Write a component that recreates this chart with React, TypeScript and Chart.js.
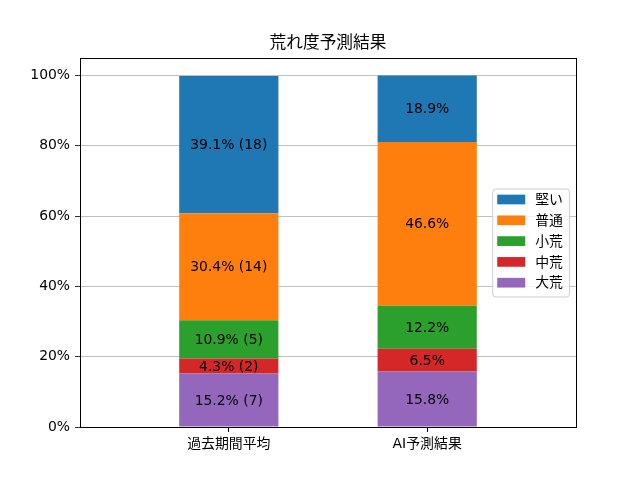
import React, { useEffect, useRef } from "react";
import { Chart, registerables, Plugin } from "chart.js";

Chart.register(...registerables);

const categories = ["過去期間平均", "AI予測結果"];
const seriesNames = ["大荒", "中荒", "小荒", "普通", "堅い"];
const seriesColors = ["#9467bd", "#d62728", "#2ca02c", "#ff7f0e", "#1f77b4"];
const pastShares = [15.2, 4.3, 10.9, 30.4, 39.1];
const pastCounts = [7, 2, 5, 14, 18];
const aiShares = [15.8, 6.5, 12.2, 46.6, 18.9];
const yTicks = [0, 20, 40, 60, 80, 100];
const titleText = "荒れ度予測結果";

const FONT = '"DejaVu Sans", "Noto Sans CJK JP", sans-serif';

// frame, title, bar labels and the boxed legend, drawn matplotlib-style
const decorations: Plugin<"bar"> = {
  id: "decorations",
  afterDatasetsDraw(chart) {
    const ctx = chart.ctx;
    ctx.save();
    ctx.font = `13.9px ${FONT}`;
    ctx.fillStyle = "#000";
    ctx.textAlign = "center";
    ctx.textBaseline = "middle";
    chart.data.datasets.forEach((_, i) => {
      const meta = chart.getDatasetMeta(i);
      meta.data.forEach((bar: any, j: number) => {
        const { x, y, base } = bar.getProps(["x", "y", "base"], true);
        const share = j === 0 ? pastShares[i] : aiShares[i];
        const text = j === 0 ? `${share.toFixed(1)}% (${pastCounts[i]})` : `${share.toFixed(1)}%`;
        ctx.fillText(text, x, (y + base) / 2 + 1);
      });
    });
    ctx.restore();
  },
  afterDraw(chart) {
    const ctx = chart.ctx;
    const { left, right, top, bottom } = chart.chartArea;
    ctx.save();
    ctx.strokeStyle = "#000";
    ctx.lineWidth = 1;
    ctx.strokeRect(Math.round(left) + 0.5, Math.round(top) + 0.5, Math.round(right - left), Math.round(bottom - top));

    ctx.font = `16.7px ${FONT}`;
    ctx.fillStyle = "#000";
    ctx.textAlign = "center";
    ctx.textBaseline = "middle";
    ctx.fillText(titleText, (left + right) / 2, 44);

    // legend, top entry is the top of the stack
    ctx.font = `13.9px ${FONT}`;
    const order = chart.data.datasets.map((_, i) => i).reverse();
    const textW = Math.max(...order.map((i) => ctx.measureText(String(chart.data.datasets[i].label)).width));
    const pad = 5;
    const handleW = 28;
    const handleH = 9.7;
    const gap = 10;
    const rowH = 20.8;
    const boxW = pad + handleW + gap + textW + pad + 1;
    const boxH = 108;
    const bx = right - 7 - boxW;
    const by = (top + bottom) / 2 - boxH / 2;
    ctx.beginPath();
    ctx.roundRect(bx + 0.5, by + 0.5, boxW, boxH, 3);
    ctx.fillStyle = "rgba(255,255,255,0.8)";
    ctx.fill();
    ctx.strokeStyle = "#cccccc";
    ctx.stroke();
    order.forEach((i, k) => {
      const cy = by + 11 + k * rowH;
      ctx.fillStyle = String(chart.data.datasets[i].backgroundColor);
      ctx.fillRect(bx + pad, cy - handleH / 2, handleW, handleH);
      ctx.fillStyle = "#000";
      ctx.textAlign = "left";
      ctx.fillText(String(chart.data.datasets[i].label), bx + pad + handleW + gap, cy + 1);
    });
    ctx.restore();
  },
};

function StackedShareChart() {
  const canvasRef = useRef<HTMLCanvasElement>(null);

  useEffect(() => {
    if (!canvasRef.current) return;
    const chart = new Chart(canvasRef.current, {
      type: "bar",
      data: {
        datasets: seriesNames.map((name, i) => ({
          label: name,
          data: [
            { x: 0, y: pastShares[i] },
            { x: 1, y: aiShares[i] },
          ],
          backgroundColor: seriesColors[i],
          borderWidth: 0,
          categoryPercentage: 1,
          barPercentage: 0.5,
        })),
      },
      options: {
        responsive: false,
        animation: false,
        devicePixelRatio: 1,
        layout: { padding: { top: 58, right: 64, left: 0, bottom: 0 } },
        plugins: {
          legend: { display: false },
          title: { display: false },
          tooltip: { enabled: false },
        },
        scales: {
          x: {
            type: "linear",
            stacked: true,
            offset: false,
            bounds: "data",
            min: -0.75,
            max: 1.75,
            afterBuildTicks: (scale: any) => {
              scale.ticks = categories.map((_, i) => ({ value: i }));
            },
            afterFit: (scale: any) => {
              scale.height = 53;
            },
            ticks: {
              callback: (v: any) => categories[Number(v)] ?? "",
              autoSkip: false,
              maxRotation: 0,
              color: "#000",
              padding: 4,
              font: { family: FONT, size: 13.9 },
            },
            grid: { offset: false, drawOnChartArea: false, color: "#000", tickLength: 5 },
            border: { color: "#000", width: 1 },
          },
          y: {
            stacked: true,
            min: 0,
            max: 105,
            afterBuildTicks: (scale: any) => {
              scale.ticks = yTicks.map((v) => ({ value: v }));
            },
            afterFit: (scale: any) => {
              scale.width = 80;
            },
            ticks: {
              callback: (v: any) => `${v}%`,
              color: "#000",
              padding: 5,
              font: { family: FONT, size: 13.9 },
            },
            grid: { color: "#b0b0b0", lineWidth: 0.8, tickColor: "#000", tickLength: 5 },
            border: { color: "#000", width: 1 },
          },
        },
      },
      plugins: [decorations],
    });
    return () => chart.destroy();
  }, []);

  return <canvas ref={canvasRef} width={640} height={480} />;
}

export default function App() {
  return (
    <div style={{ position: "fixed", left: 0, top: 0, width: 640, height: 480, background: "#fff" }}>
      <StackedShareChart />
    </div>
  );
}
